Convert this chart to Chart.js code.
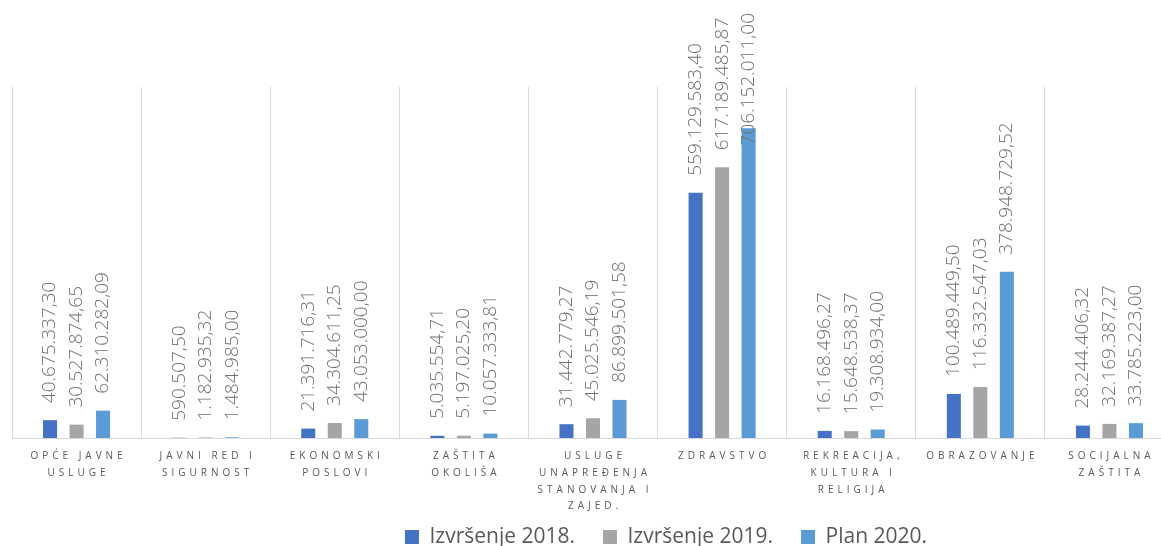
<!DOCTYPE html>
<html>
<head>
<meta charset="utf-8">
<title>Rashodi po funkcijama</title>
<script src="https://cdn.jsdelivr.net/npm/chart.js@4.4.1/dist/chart.umd.min.js"></script>
<style>
  html, body { margin: 0; padding: 0; background: #fff; overflow: hidden; }
  canvas { display: block; }
</style>
</head>
<body>
<canvas id="budget-chart" width="1180" height="546"></canvas>
<script>
  'use strict';

  const categories = [
    ['OPĆE JAVNE', 'USLUGE'],
    ['JAVNI RED I', 'SIGURNOST'],
    ['EKONOMSKI', 'POSLOVI'],
    ['ZAŠTITA', 'OKOLIŠA'],
    ['USLUGE', 'UNAPREĐENJA', 'STANOVANJA I', 'ZAJED.'],
    ['ZDRAVSTVO'],
    ['REKREACIJA,', 'KULTURA I', 'RELIGIJA'],
    ['OBRAZOVANJE'],
    ['SOCIJALNA', 'ZAŠTITA']
  ];

  const seriesNames = ['Izvršenje 2018.', 'Izvršenje 2019.', 'Plan 2020.'];

  const izvrsenje2018 = [40675337.30, 590507.50, 21391716.31, 5035554.71, 31442779.27,
    559129583.40, 16168496.27, 100489449.50, 28244406.32];
  const izvrsenje2019 = [30527874.65, 1182935.32, 34304611.25, 5197025.20, 45025546.19,
    617189485.87, 15648538.37, 116332547.03, 32169387.27];
  const plan2020 = [62310282.09, 1484985.00, 43053000.00, 10057333.81, 86899501.58,
    706152011.00, 19308934.00, 378948729.52, 33785223.00];

  const yMax = 800000000;

  // 40675337.3 -> "40.675.337,30"
  function fmt(v) {
    var parts = v.toFixed(2).split('.');
    var whole = parts[0].replace(/\B(?=(\d{3})+(?!\d))/g, '.');
    return whole + ',' + parts[1];
  }

  const FONT = '"Open Sans", "Noto Sans", sans-serif';

  // value labels, rotated, sitting above each bar (pushed down when they hit the top)
  const barValues = {
    id: 'barValues',
    afterDatasetsDraw(chart) {
      const ctx = chart.ctx;
      ctx.save();
      ctx.font = '300 19px ' + FONT;
      ctx.fillStyle = '#6f6f6f';
      ctx.textAlign = 'left';
      ctx.textBaseline = 'middle';
      chart.data.datasets.forEach(function (ds, i) {
        chart.getDatasetMeta(i).data.forEach(function (bar, j) {
          const text = fmt(ds.data[j]);
          const w = ctx.measureText(text).width;
          let y = bar.y - 17;
          if (y - w < 13) y = 13 + w;
          ctx.save();
          ctx.translate(bar.x, y);
          ctx.rotate(-Math.PI / 2);
          ctx.fillText(text, 0, 0);
          ctx.restore();
        });
      });
      ctx.restore();
    }
  };

  // letter spaced category labels + legend moved to where the original has it
  const tweaks = {
    id: 'tweaks',
    afterLayout(chart) {
      const sx = chart.scales.x;
      if (sx) {
        // tick labels are clipped to the scale box, let it reach the bottom
        sx.bottom = chart.height;
        sx.height = sx.bottom - sx.top;
        if (!sx._spaced) {
          const orig = sx.drawLabels;
          sx.drawLabels = function (area) {
            const c = this.ctx;
            c.save();
            c.letterSpacing = '4px';
            c.translate(2, 0);
            orig.call(this, area);
            c.restore();
          };
          sx._spaced = true;
        }
      }

      const lg = chart.legend;
      if (lg && lg.lineWidths) {
        const pad = lg.options.labels.padding;
        const start = (lg.left + pad + lg.right - lg.lineWidths[0]) / 2;
        const center = start + (lg.lineWidths[0] - pad) / 2;
        const dx = 666 - center;
        lg.left += dx;
        lg.right += dx;
        const dy = (537 - pad - 10.5) - lg.top;
        lg.top += dy;
        lg.bottom += dy;
      }
    }
  };

  const ctx = document.getElementById('budget-chart');

  const common = {
    borderWidth: 0,
    barPercentage: 0.53,
    categoryPercentage: 0.616
  };

  new Chart(ctx, {
    type: 'bar',
    data: {
      labels: categories,
      datasets: [
        Object.assign({ label: seriesNames[0], data: izvrsenje2018, backgroundColor: '#4472C4' }, common),
        Object.assign({ label: seriesNames[1], data: izvrsenje2019, backgroundColor: '#A5A5A5' }, common),
        Object.assign({ label: seriesNames[2], data: plan2020, backgroundColor: '#5B9BD5' }, common)
      ]
    },
    options: {
      responsive: false,
      animation: false,
      layout: {
        padding: { left: 12, right: 6, top: 87, bottom: 0 }
      },
      scales: {
        y: {
          display: false,
          min: 0,
          max: yMax
        },
        x: {
          offset: true,
          grid: {
            offset: true,
            color: '#d9d9d9',
            lineWidth: 1,
            drawTicks: false
          },
          border: {
            color: '#d9d9d9'
          },
          ticks: {
            autoSkip: false,
            maxRotation: 0,
            minRotation: 0,
            padding: 10,
            color: '#595959',
            font: { family: FONT, size: 10, lineHeight: '16.7px' }
          },
          afterFit: function (scale) {
            const lg = scale.chart.legend;
            scale.height = 546 - 438 - (lg ? lg.height : 0);
          }
        }
      },
      plugins: {
        legend: {
          position: 'bottom',
          labels: {
            boxWidth: 14,
            boxHeight: 14,
            padding: 28,
            color: '#595959',
            font: { family: FONT, size: 21 }
          }
        },
        tooltip: { enabled: false }
      }
    },
    plugins: [barValues, tweaks]
  });
</script>
</body>
</html>
